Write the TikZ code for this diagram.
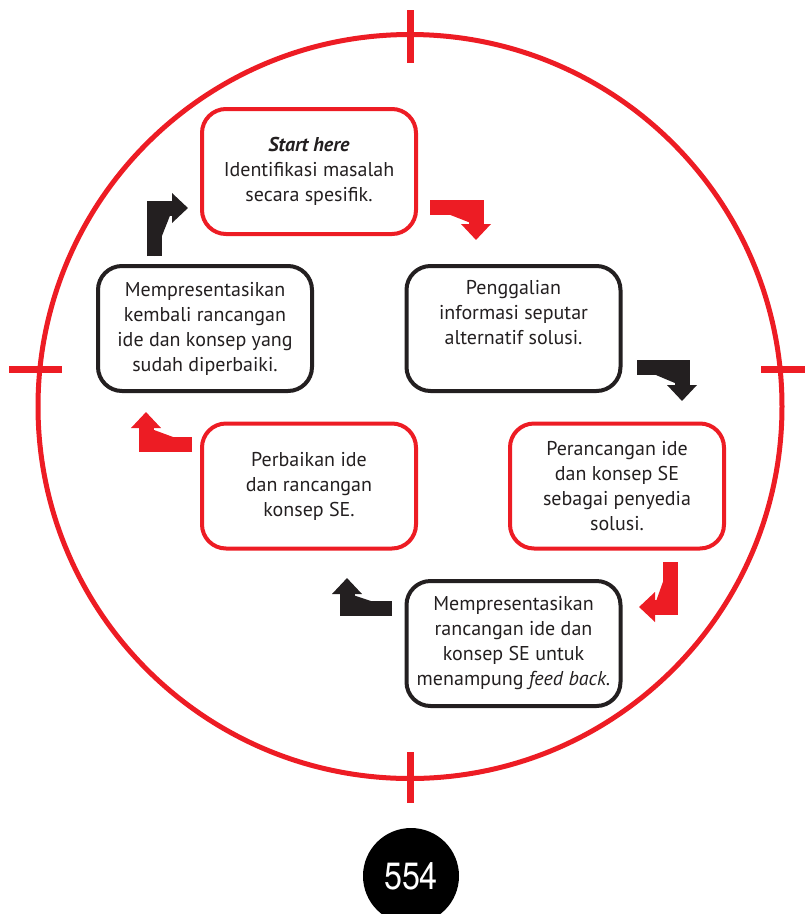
\documentclass[tikz,border=0pt]{standalone}
\usepackage{fontspec}
\setmainfont{PT Sans}
\newfontfamily\numfont{TeX Gyre Heros}[FakeStretch=0.85]
\usetikzlibrary{arrows.meta}
\definecolor{cred}{RGB}{237,28,36}
\definecolor{ctext}{RGB}{35,31,32}
\tikzset{
 stepbox/.style={rounded corners=24pt, line width=4pt, minimum width=214pt, minimum height=125pt, align=center, font=\fontsize{20}{25}\selectfont, text=ctext, inner sep=0pt},
 redbox/.style={stepbox, draw=cred},
 blkbox/.style={stepbox, draw=ctext},
 elbow/.style={line width=15pt, line join=miter, line cap=butt, -{Triangle[length=16pt,width=29pt]}},
 tick/.style={draw=cred, line width=7pt},
}
\begin{document}
\begin{tikzpicture}[x=1pt,y=-1pt]
\useasboundingbox (0,0) rectangle (805,914);
% target circle
\draw[cred, line width=5pt] (410,406.5) circle (372pt);
\coordinate (tt1) at (410,10); \coordinate (tt2) at (410,63);
\coordinate (tb1) at (410,752); \coordinate (tb2) at (410,803);
\coordinate (tl1) at (9,369); \coordinate (tl2) at (62,369);
\coordinate (tr1) at (761,369); \coordinate (tr2) at (805,369);
\draw[tick] (tt1) -- (tt2);
\draw[tick] (tb1) -- (tb2);
\draw[tick] (tl1) -- (tl2);
\draw[tick] (tr1) -- (tr2);
% boxes
\node[redbox] (b1) at (309,171.5) {\textbf{\textit{Start here}}\\Identifikasi masalah\\secara spesifik.};
\node[blkbox] (b2) at (513.5,328.5) {Penggalian\\informasi seputar\\alternatif solusi.\\\strut};
\node[blkbox] (b3) at (205,328.5) {Mempresentasikan\\kembali rancangan\\ide dan konsep yang\\sudah diperbaiki.};
\node[redbox] (b4) at (309,486) {Perbaikan ide\\dan rancangan\\konsep SE.};
\node[redbox] (b5) at (617,486) {Perancangan ide\\dan konsep SE\\sebagai penyedia\\solusi.};
\node[blkbox] (b6) at (513.5,643.5) {Mempresentasikan\\rancangan ide dan\\konsep SE untuk\\menampung \textit{feed back.}};
% elbow arrows
\coordinate (a1s) at (154,256); \coordinate (a1m) at (154,208); \coordinate (a1e) at (188,208);
\coordinate (a2s) at (430,207); \coordinate (a2m) at (476,207); \coordinate (a2e) at (476,240);
\coordinate (a3s) at (637,367); \coordinate (a3m) at (682,367); \coordinate (a3e) at (682,401);
\coordinate (a4s) at (670,562); \coordinate (a4m) at (670,607); \coordinate (a4e) at (639,607);
\coordinate (a5s) at (392,608); \coordinate (a5m) at (347,608); \coordinate (a5e) at (347,578);
\coordinate (a6s) at (192,444); \coordinate (a6m) at (146,444); \coordinate (a6e) at (146,412);
\draw[elbow, draw=ctext, fill=ctext] (a1s) -- (a1m) -- (a1e);
\draw[elbow, draw=cred, fill=cred] (a2s) -- (a2m) -- (a2e);
\draw[elbow, draw=ctext, fill=ctext] (a3s) -- (a3m) -- (a3e);
\draw[elbow, draw=cred, fill=cred] (a4s) -- (a4m) -- (a4e);
\draw[elbow, draw=ctext, fill=ctext] (a5s) -- (a5m) -- (a5e);
\draw[elbow, draw=cred, fill=cred] (a6s) -- (a6m) -- (a6e);
% page number
\node[circle, fill=black, minimum size=96pt, inner sep=0pt, text=white, font=\numfont\fontsize{38}{38}\selectfont] (pg) at (411,876) {554};
\end{tikzpicture}
\end{document}
